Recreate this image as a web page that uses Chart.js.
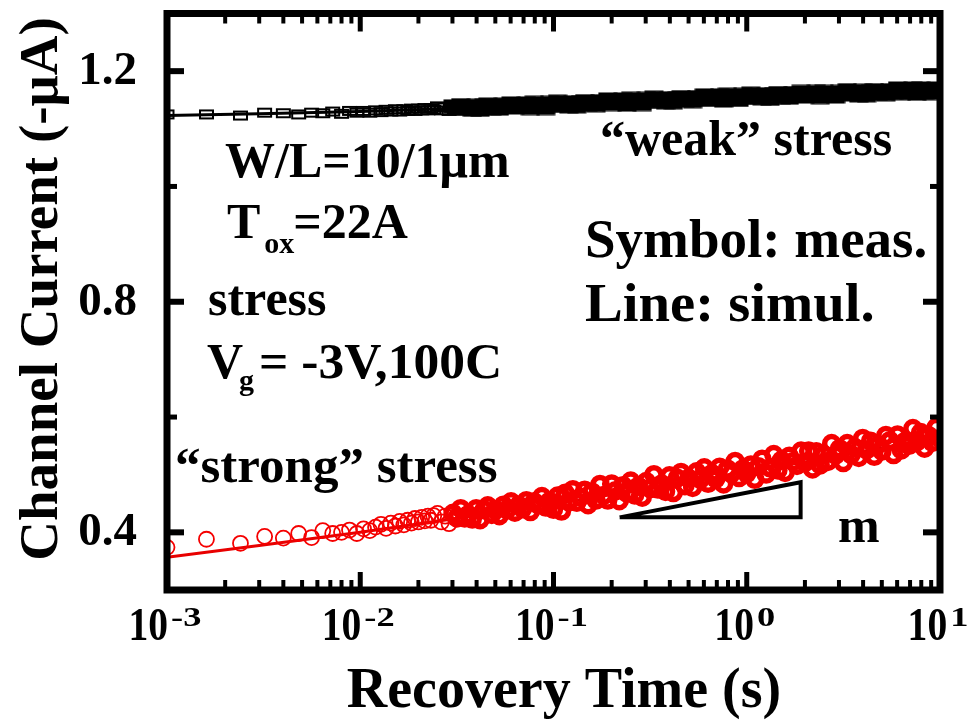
<!DOCTYPE html>
<html>
<head>
<meta charset="utf-8">
<script src="https://cdn.jsdelivr.net/npm/chart.js@4.4.1/dist/chart.umd.min.js"></script>
<style>
  html, body { margin: 0; padding: 0; background: #fff; }
  canvas { display: block; }
</style>
</head>
<body>
<canvas id="c" width="969" height="726"></canvas>
<script>
// Recovery time (s): early samples every 0.8 ms, later samples thinned on a log grid
const timesEarly = [0.0010,0.0016,0.0024,0.0032,0.0040,0.0048,0.0056,0.0064,0.0072,0.0080,
  0.0088,0.0096,0.0104,0.0112,0.0120,0.0128,0.0136,0.0144,0.0152,0.0160,
  0.0168,0.0176,0.0184,0.0192,0.0200,0.0208,0.0216,0.0224,0.0232,0.0240];
const timesLate = [0.0251,0.0263,0.0275,0.0288,0.0302,0.0316,0.0331,0.0347,0.0363,0.0380,
  0.0398,0.0417,0.0437,0.0457,0.0479,0.0501,0.0525,0.0550,0.0575,0.0603,
  0.0631,0.0661,0.0692,0.0724,0.0759,0.0794,0.0832,0.0871,0.0912,0.0955,
  0.100,0.105,0.110,0.115,0.120,0.126,0.132,0.138,0.145,0.151,
  0.158,0.166,0.174,0.182,0.191,0.200,0.209,0.219,0.229,0.240,
  0.251,0.263,0.275,0.288,0.302,0.316,0.331,0.347,0.363,0.380,
  0.398,0.417,0.437,0.457,0.479,0.501,0.525,0.550,0.575,0.603,
  0.631,0.661,0.692,0.724,0.759,0.794,0.832,0.871,0.912,0.955,
  1.00,1.05,1.10,1.15,1.20,1.26,1.32,1.38,1.45,1.51,
  1.58,1.66,1.74,1.82,1.91,2.00,2.09,2.19,2.29,2.40,
  2.51,2.63,2.75,2.88,3.02,3.16,3.31,3.47,3.63,3.80,
  3.98,4.17,4.37,4.57,4.79,5.01,5.25,5.50,5.75,6.03,
  6.31,6.61,6.92,7.24,7.59,7.94,8.32,8.71,9.12,9.55,10.0];

// "weak" stress: measured channel current (-µA)
const weakEarly = [1.125,1.125,1.123,1.128,1.127,1.125,1.128,1.127,1.130,1.126,
  1.131,1.128,1.131,1.128,1.132,1.129,1.133,1.130,1.134,1.130,
  1.134,1.131,1.135,1.131,1.135,1.132,1.136,1.132,1.136,1.133];
const weakLate = [1.139,1.132,1.137,1.131,1.139,1.135,1.141,1.135,1.137,1.133,
  1.140,1.133,1.140,1.142,1.135,1.139,1.135,1.142,1.138,1.144,
  1.137,1.141,1.138,1.144,1.136,1.145,1.138,1.142,1.136,1.145,
  1.141,1.147,1.141,1.143,1.139,1.146,1.139,1.146,1.148,1.142,
  1.145,1.141,1.148,1.145,1.151,1.143,1.148,1.145,1.151,1.142,
  1.152,1.145,1.149,1.143,1.152,1.148,1.154,1.148,1.150,1.146,
  1.153,1.146,1.153,1.155,1.149,1.152,1.148,1.155,1.152,1.158,
  1.150,1.155,1.152,1.158,1.149,1.159,1.152,1.156,1.150,1.159,
  1.155,1.161,1.154,1.157,1.153,1.160,1.152,1.160,1.162,1.155,
  1.158,1.154,1.162,1.158,1.164,1.156,1.161,1.158,1.164,1.155,
  1.164,1.158,1.162,1.156,1.164,1.161,1.167,1.160,1.162,1.158,
  1.166,1.158,1.165,1.167,1.161,1.164,1.160,1.167,1.163,1.170,
  1.162,1.166,1.163,1.170,1.161,1.170,1.163,1.167,1.162,1.170,1.166];

// "strong" stress: measured channel current (-µA)
const strongEarly = [0.374,0.388,0.381,0.393,0.390,0.398,0.391,0.403,0.398,0.400,
  0.404,0.398,0.406,0.403,0.409,0.414,0.407,0.416,0.411,0.419,
  0.413,0.421,0.416,0.424,0.418,0.426,0.420,0.428,0.421,0.429];
const strongLate = [0.433,0.418,0.428,0.415,0.433,0.425,0.441,0.425,0.431,0.423,
  0.441,0.422,0.439,0.446,0.431,0.439,0.429,0.447,0.439,0.453,
  0.435,0.447,0.441,0.455,0.436,0.453,0.448,0.462,0.444,0.454,
  0.440,0.463,0.437,0.468,0.453,0.474,0.452,0.461,0.473,0.448,
  0.470,0.456,0.483,0.464,0.456,0.484,0.472,0.455,0.481,0.468,
  0.489,0.465,0.480,0.461,0.488,0.476,0.500,0.475,0.484,0.471,
  0.498,0.469,0.494,0.504,0.481,0.494,0.478,0.505,0.492,0.512,
  0.485,0.502,0.493,0.513,0.484,0.510,0.502,0.523,0.495,0.510,
  0.502,0.517,0.492,0.514,0.527,0.501,0.512,0.535,0.508,0.525,
  0.504,0.532,0.523,0.516,0.541,0.521,0.541,0.510,0.540,0.517,
  0.535,0.523,0.554,0.534,0.545,0.521,0.554,0.535,0.547,0.530,
  0.563,0.543,0.558,0.532,0.552,0.541,0.568,0.559,0.535,0.569,
  0.543,0.558,0.551,0.580,0.557,0.573,0.546,0.568,0.556,0.582,0.563];

// Simulated recovery curves
const simTimes  = [0.001,0.003,0.01,0.03,0.1,0.3,1,3,10];
const weakSim   = [1.123,1.126,1.130,1.135,1.141,1.147,1.154,1.160,1.166];
const strongSim = [0.357,0.377,0.400,0.423,0.449,0.475,0.504,0.533,0.565];

// Slope triangle (corners in time / current)
const slopeTimes  = [0.22, 1.9, 1.9, 0.22];
const slopeValues = [0.426, 0.487, 0.426, 0.426];

// Axis ticks
const xMajorTicks = [0.001, 0.01, 0.1, 1, 10];
const xTickExponents = ['-3', '-2', '-1', '0', '1'];
const xMinorTicks = [0.002,0.003,0.004,0.005,0.006,0.007,0.008,0.009,
  0.02,0.03,0.04,0.05,0.06,0.07,0.08,0.09,
  0.2,0.3,0.4,0.5,0.6,0.7,0.8,0.9,
  2,3,4,5,6,7,8,9];
const yMajorTicks = [0.4, 0.8, 1.2];
const yTickLabels = ['0.4', '0.8', '1.2'];
const yMinorTicks = [0.6, 1.0];

const FONT = '"Liberation Serif", "Times New Roman", serif';
const DENSE_FROM = 0.03;   // beyond this the markers pile up into a band

function zip(xs, ys) {
  const n = Math.min(xs.length, ys.length);
  const out = [];
  for (let i = 0; i < n; i++) out.push({ x: xs[i], y: ys[i] });
  return out;
}

// open rectangle markers for the "weak" measurement
function boxMarker(w, h, lw) {
  const c = document.createElement('canvas');
  c.width = w + 6; c.height = h + 6;
  const g = c.getContext('2d');
  g.strokeStyle = '#000';
  g.lineWidth = lw;
  g.strokeRect(3, 3, w, h);
  return c;
}
const thinBox = boxMarker(13, 8, 2.0);
const heavyBox = boxMarker(14, 9, 5);

// draw a sequence of text runs (for sub/superscripts)
function runs(ctx, parts, x, y, align) {
  let total = 0;
  parts.forEach(p => {
    ctx.font = 'bold ' + p.size + 'px ' + FONT;
    p.w = ctx.measureText(p.text).width * (p.sx || 1);
    total += p.w + (p.gap || 0);
  });
  let cx = align === 'center' ? x - total / 2 : (align === 'right' ? x - total : x);
  parts.forEach(p => {
    ctx.save();
    ctx.translate(cx + (p.gap || 0), y + (p.dy || 0));
    ctx.scale(p.sx || 1, p.sy || 1);
    ctx.font = 'bold ' + p.size + 'px ' + FONT;
    ctx.textAlign = 'left';
    ctx.textBaseline = 'alphabetic';
    ctx.fillStyle = '#000';
    ctx.fillText(p.text, 0, 0);
    ctx.restore();
    cx += p.w + (p.gap || 0);
  });
  return total;
}

const decor = {
  id: 'decor',
  afterDatasetsDraw(chart) {
    const { ctx, chartArea: a, scales: { x, y } } = chart;
    ctx.save();
    ctx.strokeStyle = '#000';
    ctx.lineCap = 'butt';
    const seg = (x1, y1, x2, y2, w) => {
      ctx.lineWidth = w; ctx.beginPath(); ctx.moveTo(x1, y1); ctx.lineTo(x2, y2); ctx.stroke();
    };
    xMinorTicks.forEach(v => {
      const p = x.getPixelForValue(v);
      seg(p, a.bottom, p, a.bottom - 10, 4);
      seg(p, a.top, p, a.top + 10, 4);
    });
    x.ticks.forEach(t => {
      const p = x.getPixelForValue(t.value);
      seg(p, a.bottom, p, a.bottom - 18, 5);
      seg(p, a.top, p, a.top + 18, 5);
    });
    yMinorTicks.forEach(v => {
      const p = y.getPixelForValue(v);
      seg(a.left, p, a.left + 10, p, 5);
      seg(a.right, p, a.right - 10, p, 5);
    });
    y.ticks.forEach(t => {
      const p = y.getPixelForValue(t.value);
      seg(a.left, p, a.left + 17, p, 6);
      seg(a.right, p, a.right - 17, p, 6);
    });
    ctx.lineJoin = 'miter';
    ctx.lineWidth = 7;
    ctx.strokeRect(a.left, a.top, a.right - a.left, a.bottom - a.top);
    ctx.restore();
  },
  afterDraw(chart) {
    const { ctx, chartArea: a, scales: { x, y } } = chart;
    ctx.save();
    ctx.fillStyle = '#000';

    // x tick labels: 10 with a raised exponent
    x.ticks.forEach((t, i) => {
      const p = x.getPixelForValue(t.value);
      runs(ctx, [
        { text: '10', size: 46, sx: 0.86 },
        { text: xTickExponents[i], size: 28, sx: 1.3, dy: -14, gap: 3 }
      ], p - 2, 640, 'center');
    });

    // y tick labels
    y.ticks.forEach((t, i) => {
      const p = y.getPixelForValue(t.value);
      ctx.font = 'bold 47px ' + FONT;
      ctx.textAlign = 'right';
      ctx.textBaseline = 'middle';
      ctx.fillText(yTickLabels[i], a.left - 30, p + 1);
    });

    // axis titles
    ctx.font = 'bold 56px ' + FONT;
    ctx.textAlign = 'center';
    ctx.textBaseline = 'alphabetic';
    ctx.fillText('Recovery Time (s)', 564, 707);

    ctx.save();
    ctx.translate(57, 289);
    ctx.rotate(-Math.PI / 2);
    ctx.font = 'bold 55px ' + FONT;
    ctx.textAlign = 'center';
    ctx.textBaseline = 'alphabetic';
    ctx.fillText('Channel Current (-\u03bcA)', 0, 0);
    ctx.restore();

    // annotations
    const S = 50;
    runs(ctx, [{ text: 'W/L=10/1\u03bcm', size: S }], 225, 177, 'left');
    runs(ctx, [
      { text: 'T', size: S },
      { text: 'ox', size: 30, dy: 15, gap: 4 },
      { text: '=22A', size: S, gap: -1 }
    ], 227, 238, 'left');
    runs(ctx, [{ text: 'stress', size: S }], 208, 315, 'left');
    runs(ctx, [
      { text: 'V', size: S },
      { text: 'g', size: 30, dy: 12, gap: -4 },
      { text: '= -3V,100C', size: S, gap: 5, sx: 1.03 }
    ], 207, 378, 'left');
    runs(ctx, [{ text: '\u201cweak\u201d stress', size: S }], 600, 155, 'left');
    runs(ctx, [{ text: 'Symbol: meas.', size: 55 }], 585, 257, 'left');
    runs(ctx, [{ text: 'Line: simul.', size: 55, sx: 1.03 }], 585, 321, 'left');
    runs(ctx, [{ text: '\u201cstrong\u201d stress', size: S, sx: 1.02 }], 175, 482, 'left');
    runs(ctx, [{ text: 'm', size: S }], 838, 542, 'left');
    ctx.restore();
  }
};

new Chart(document.getElementById('c'), {
  type: 'scatter',
  data: {
    datasets: [
      {
        label: 'slope',
        data: zip(slopeTimes, slopeValues),
        showLine: true, borderColor: '#000', borderWidth: 4,
        pointRadius: 0, order: 0, clip: 0
      },
      {
        label: 'weak meas.',
        data: zip(timesEarly, weakEarly).concat(zip(timesLate, weakLate)),
        pointStyle: c => (c.raw && c.raw.x >= DENSE_FROM ? heavyBox : thinBox),
        pointRadius: 6,
        order: 1, clip: 0
      },
      {
        label: 'weak simul.',
        data: zip(simTimes, weakSim),
        showLine: true, borderColor: '#000', borderWidth: 3,
        pointRadius: 0, order: 2, clip: 0
      },
      {
        label: 'strong meas.',
        data: zip(timesEarly, strongEarly).concat(zip(timesLate, strongLate)),
        pointStyle: 'circle',
        pointRadius: c => (c.raw && c.raw.x >= DENSE_FROM ? 7 : 7.5),
        borderColor: '#f50000', backgroundColor: 'rgba(255,255,255,0)',
        pointBorderWidth: c => (c.raw && c.raw.x >= DENSE_FROM ? 5.5 : 1.8),
        order: 3, clip: 0
      },
      {
        label: 'strong simul.',
        data: zip(simTimes, strongSim),
        showLine: true, borderColor: '#e80000', borderWidth: 3,
        pointRadius: 0, order: 4, clip: 0
      }
    ]
  },
  options: {
    responsive: false,
    animation: false,
    events: [],
    layout: { padding: { top: 13.5, right: 29, left: 0, bottom: 0 } },
    plugins: { legend: { display: false }, tooltip: { enabled: false } },
    scales: {
      x: {
        type: 'logarithmic', min: 0.001, max: 10,
        grid: { display: false }, border: { display: false },
        ticks: { display: false },
        afterBuildTicks(s) { s.ticks = xMajorTicks.map(v => ({ value: v })); },
        afterFit(s) { s.height = 136; }
      },
      y: {
        type: 'linear', min: 0.3, max: 1.3,
        grid: { display: false }, border: { display: false },
        ticks: { display: false },
        afterBuildTicks(s) { s.ticks = yMajorTicks.map(v => ({ value: v })); },
        afterFit(s) { s.width = 167; }
      }
    }
  },
  plugins: [decor]
});
</script>
</body>
</html>
